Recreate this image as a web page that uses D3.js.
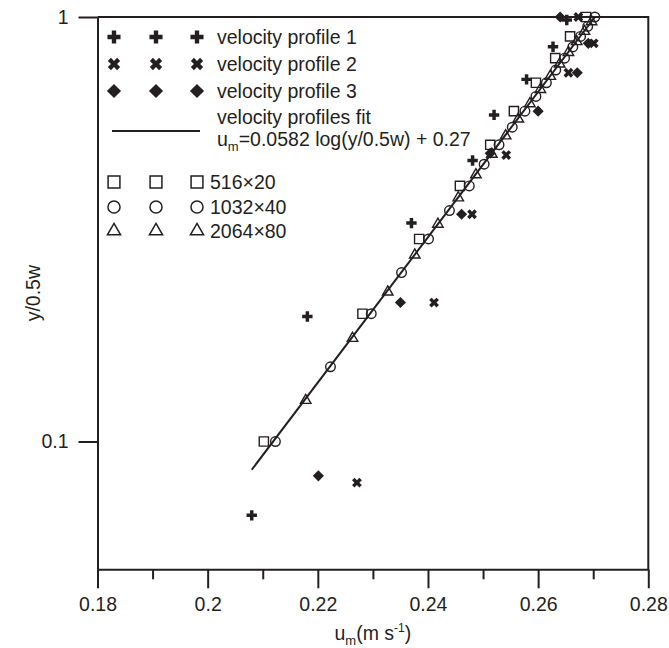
<!DOCTYPE html>
<html>
<head>
<meta charset="utf-8">
<script src="https://cdn.jsdelivr.net/npm/d3@7"></script>
<style>
  body { margin: 0; background: #fff; }
  text { font-family: "Liberation Sans", Arial, Helvetica, sans-serif; fill: #231f20; }
</style>
</head>
<body>
<div id="chart"></div>
<script>
// velocity profiles (measured)
const profile1U = [0.2080, 0.2181, 0.2370, 0.2481, 0.2520, 0.2579, 0.2627, 0.2652];
const profile1Y = [0.067, 0.197, 0.327, 0.459, 0.588, 0.713, 0.851, 0.984];

const profile2U = [0.2271, 0.2411, 0.2480, 0.2542, 0.2655, 0.2701, 0.2673];
const profile2Y = [0.080, 0.2125, 0.343, 0.473, 0.739, 0.867, 1.0];

const profile3U = [0.2201, 0.2350, 0.2461, 0.2513, 0.2600, 0.2671, 0.2691, 0.2640];
const profile3Y = [0.083, 0.2125, 0.343, 0.4775, 0.60, 0.739, 0.867, 1.0];

// simulations
const grid516Y = [0.1, 0.2, 0.3, 0.4, 0.5, 0.6, 0.7, 0.8, 0.9, 1.0];
const grid516U = [0.2102, 0.2281, 0.2384, 0.2458, 0.2513, 0.2556, 0.2596, 0.2631, 0.2658, 0.2687];

const grid1032Y = [0.10, 0.15, 0.20, 0.25, 0.30, 0.35, 0.40, 0.45, 0.50, 0.55,
                   0.60, 0.65, 0.70, 0.75, 0.80, 0.85, 0.90, 0.95, 1.00];
const grid1032U = [0.2123, 0.2223, 0.2297, 0.2352, 0.2401, 0.2439, 0.2475, 0.2502, 0.2529, 0.2553,
                   0.2576, 0.2596, 0.2615, 0.2632, 0.2648, 0.2663, 0.2677, 0.2690, 0.2703];

const grid2064Y = [0.125, 0.175, 0.225, 0.275, 0.325, 0.375, 0.425, 0.475, 0.525,
                   0.575, 0.625, 0.675, 0.725, 0.775, 0.825, 0.875, 0.925, 0.975];
const grid2064U = [0.2178, 0.2263, 0.2327, 0.2376, 0.2418, 0.2455, 0.2487, 0.2516, 0.2541,
                   0.2564, 0.2585, 0.2604, 0.2622, 0.2639, 0.2655, 0.2670, 0.2684, 0.2697];

// fit line end points
const fitU = [0.2080, 0.2703];
const fitY = [0.0858, 1.0];

const xMajor = [0.18, 0.2, 0.22, 0.24, 0.26, 0.28];
const xMinor = [0.19, 0.21, 0.23, 0.25, 0.27];
const yMajor = [0.1, 1];

const width = 669;
const height = 648;
const margin = { top: 17, right: 20.7, bottom: 78.7, left: 97.5 };
const ink = "#231f20";

const svg = d3.select("#chart")
  .append("svg")
  .attr("width", width)
  .attr("height", height);

const x = d3.scaleLinear()
  .domain([0.18, 0.28])
  .range([margin.left, width - margin.right]);

const y = d3.scaleLog()
  .domain([0.05, 1])
  .range([height - margin.bottom, margin.top]);

const fmt = d => String(+d.toFixed(2));

// x axis, minor then major ticks
svg.append("g")
  .attr("transform", `translate(0,${height - margin.bottom})`)
  .call(d3.axisBottom(x).tickValues(xMinor).tickSize(10).tickFormat(""))
  .call(g => g.select(".domain").remove());

const xAxis = svg.append("g")
  .attr("transform", `translate(0,${height - margin.bottom})`)
  .call(d3.axisBottom(x).tickValues(xMajor).tickSize(19).tickSizeOuter(0).tickPadding(9).tickFormat(fmt));

xAxis.selectAll("text").attr("font-size", "19.5px").attr("fill", ink);

// y axis
const yAxis = svg.append("g")
  .attr("transform", `translate(${margin.left},0)`)
  .call(d3.axisLeft(y).tickValues(yMajor).tickSize(19).tickSizeOuter(0).tickPadding(10).tickFormat(d => d === 1 ? "1" : "0.1"));

yAxis.selectAll("text").attr("font-size", "19.5px").attr("fill", ink);

svg.selectAll(".tick line, .domain")
  .attr("stroke", ink)
  .attr("stroke-width", 2);

// box top + right
svg.append("path")
  .attr("d", `M${x(0.18)},${y(1)}H${x(0.28)}V${y(0.05)}`)
  .attr("fill", "none")
  .attr("stroke", ink)
  .attr("stroke-width", 2);

// axis titles
const xTitle = svg.append("text")
  .attr("x", (x(0.18) + x(0.28)) / 2)
  .attr("y", 640)
  .attr("text-anchor", "middle")
  .attr("font-size", "19.5px");
xTitle.append("tspan").text("u");
xTitle.append("tspan").text("m").attr("font-size", "13px").attr("dy", 5);
xTitle.append("tspan").text("(m s").attr("dy", -5);
xTitle.append("tspan").text("-1").attr("font-size", "12px").attr("dy", -8);
xTitle.append("tspan").text(")").attr("dy", 8);

svg.append("text")
  .attr("transform", `translate(40,${(y(1) + y(0.05)) / 2}) rotate(-90)`)
  .attr("text-anchor", "middle")
  .attr("font-size", "19.5px")
  .text("y/0.5w");

// fit line
const line = d3.line()
  .x(d => x(d[0]))
  .y(d => y(d[1]));

svg.append("path")
  .datum(d3.zip(fitU, fitY))
  .attr("d", line)
  .attr("fill", "none")
  .attr("stroke", ink)
  .attr("stroke-width", 2);

// symbol helpers
function mark(type, size, rotate, filled) {
  const path = d3.symbol().type(type).size(size)();
  return { path, rotate, filled };
}

const plotMarks = {
  plus: mark(d3.symbolCross, 60, 0, true),
  cross: mark(d3.symbolCross, 60, 45, true),
  diamond: mark(d3.symbolSquare, 62, 45, true),
  square: mark(d3.symbolSquare, 85, 0, false),
  circle: mark(d3.symbolCircle, 72, 0, false),
  triangle: mark(d3.symbolTriangle, 48, 0, false)
};

const legendMarks = {
  plus: mark(d3.symbolCross, 95, 0, true),
  cross: mark(d3.symbolCross, 95, 45, true),
  diamond: mark(d3.symbolSquare, 100, 45, true),
  square: mark(d3.symbolSquare, 140, 0, false),
  circle: mark(d3.symbolCircle, 115, 0, false),
  triangle: mark(d3.symbolTriangle, 75, 0, false)
};

function drawMarks(us, ys, m) {
  svg.append("g")
    .selectAll("path")
    .data(d3.zip(us, ys))
    .enter()
    .append("path")
    .attr("d", m.path)
    .attr("transform", d => `translate(${x(d[0])},${y(d[1])}) rotate(${m.rotate})`)
    .attr("fill", m.filled ? ink : "none")
    .attr("stroke", m.filled ? "none" : ink)
    .attr("stroke-width", 1.4);
}

drawMarks(grid2064U, grid2064Y, plotMarks.triangle);
drawMarks(grid1032U, grid1032Y, plotMarks.circle);
drawMarks(grid516U, grid516Y, plotMarks.square);
drawMarks(profile3U, profile3Y, plotMarks.diamond);
drawMarks(profile2U, profile2Y, plotMarks.cross);
drawMarks(profile1U, profile1Y, plotMarks.plus);

// legend
const legendCols = [114, 156, 197];
const legendRows = [
  { key: "plus", cy: 37, label: "velocity profile 1" },
  { key: "cross", cy: 64, label: "velocity profile 2" },
  { key: "diamond", cy: 91, label: "velocity profile 3" },
  { key: "square", cy: 182, label: "516×20" },
  { key: "circle", cy: 207, label: "1032×40" },
  { key: "triangle", cy: 231, label: "2064×80" }
];

const legend = svg.append("g");

legendRows.forEach(r => {
  const m = legendMarks[r.key];
  legendCols.forEach(cx => {
    legend.append("path")
      .attr("d", m.path)
      .attr("transform", `translate(${cx},${r.cy}) rotate(${m.rotate})`)
      .attr("fill", m.filled ? ink : "none")
      .attr("stroke", m.filled ? "none" : ink)
      .attr("stroke-width", 1.5);
  });
  legend.append("text")
    .attr("x", m.filled ? 217 : 210)
    .attr("y", r.cy + 7)
    .attr("font-size", "19.5px")
    .text(r.label);
});

legend.append("line")
  .attr("x1", 112).attr("x2", 200)
  .attr("y1", 131).attr("y2", 131)
  .attr("stroke", ink)
  .attr("stroke-width", 2);

legend.append("text")
  .attr("x", 217)
  .attr("y", 124)
  .attr("font-size", "19.5px")
  .text("velocity profiles fit");

const eq = legend.append("text")
  .attr("x", 217)
  .attr("y", 146)
  .attr("font-size", "19.5px");
eq.append("tspan").text("u");
eq.append("tspan").text("m").attr("font-size", "13px").attr("dy", 5);
eq.append("tspan").text("=0.0582 log(y/0.5w) + 0.27").attr("dy", -5);
</script>
</body>
</html>
